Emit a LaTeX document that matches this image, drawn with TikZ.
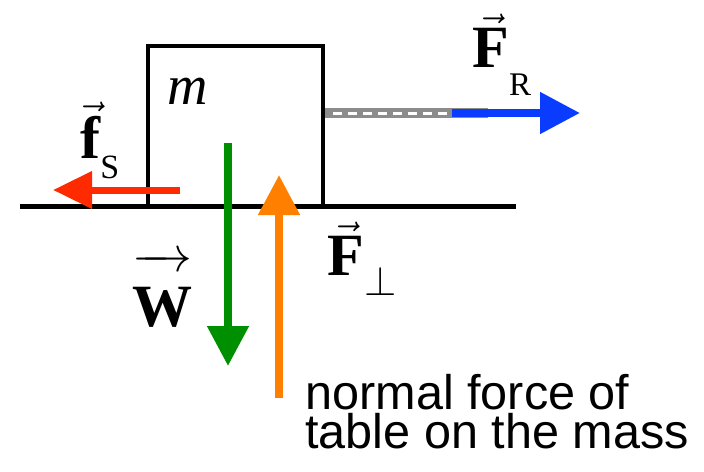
\documentclass[tikz,border=0pt]{standalone}
\usepackage{fontspec}
\setmainfont{Liberation Serif}
\newfontfamily\notefont{Liberation Sans}
\usetikzlibrary{positioning,arrows.meta}

\definecolor{frictionred}{HTML}{FF2A00}
\definecolor{pullblue}{HTML}{0A3CFF}
\definecolor{weightgreen}{HTML}{008F00}
\definecolor{normalorange}{HTML}{FF8000}
\definecolor{ropegray}{HTML}{8C8C8C}

\begin{document}
\begin{tikzpicture}[
    x=0.5pt, y=-0.5pt,
    block/.style = {
        rectangle,
        draw=black,
        line width=2pt,
        minimum width=87.5pt,
        minimum height=80pt,
        inner sep=0pt
    },
    forcelbl/.style = {
        inner sep=0pt,
        anchor=base west,
        font=\fontsize{30}{34}\selectfont
    },
    note/.style = {
        inner sep=0pt,
        anchor=base west,
        font=\notefont\fontsize{24.3}{26}\selectfont
    },
    force/.style = {
        line width=4pt,
        -{Triangle[length=20pt,width=20pt]}
    }
]

\useasboundingbox (0,0) rectangle (704,471);

% table top
\coordinate (tableL) at (20,206);
\coordinate (tableR) at (516,206);
\draw [line width=2.5pt] (tableL) -- (tableR);

% the mass
\node (mass) [block] at (235.5,126) {};
\node (massname) [anchor=base west, inner sep=0pt, font=\fontsize{28}{30}\selectfont] at (167,104) {\textit{m}};

% rope and pull
\coordinate (ropeEnd) at (488,113);
\coordinate (pullTail) at (452,113);
\coordinate (pullTip) at (580,113);
\draw [line width=5pt, ropegray] (mass.east |- ropeEnd) -- (ropeEnd);
\draw [line width=1.5pt, white, dash pattern=on 4.5pt off 3pt] ([xshift=4pt]mass.east |- ropeEnd) -- (pullTail);
\draw [force, pullblue] (pullTail) -- (pullTip);

% friction
\coordinate (fricTail) at (180,190);
\coordinate (fricTip) at (53,190);
\draw [line width=3.5pt, frictionred, -{Triangle[length=19.5pt,width=18pt]}] (fricTail) -- (fricTip);

% weight
\coordinate (wTail) at (228,143);
\coordinate (wTip) at (228,366);
\draw [force, weightgreen] (wTail) -- (wTip);

% normal force
\coordinate (nTail) at (279,398);
\coordinate (nTip) at (279,175);
\draw [force, normalorange] (nTail) -- (nTip);

% labels
\node (lblFR) [forcelbl] at (472,67) {$\vec{\mbox{\bfseries F}}${\fontsize{16.5}{18}\selectfont\raisebox{-14pt}{R}}};
\node (lblfS) [forcelbl] at (80,158) {$\vec{\mbox{\bfseries f}}${\fontsize{17}{18}\selectfont\raisebox{-10pt}{S}}};
\node (lblW) [forcelbl] at (132,326) {$\overrightarrow{\rule{0pt}{0.95em}\mbox{\bfseries W}}$};
\node (lblFN) [forcelbl] at (327,275) {$\vec{\mbox{\bfseries F}}$\raisebox{-10pt}{\fontsize{22}{24}\selectfont$\perp$}};

\node (note1) [note] at (305,409) {normal force of};
\node (note2) [note] at (305,448) {table on the mass};

\end{tikzpicture}
\end{document}
